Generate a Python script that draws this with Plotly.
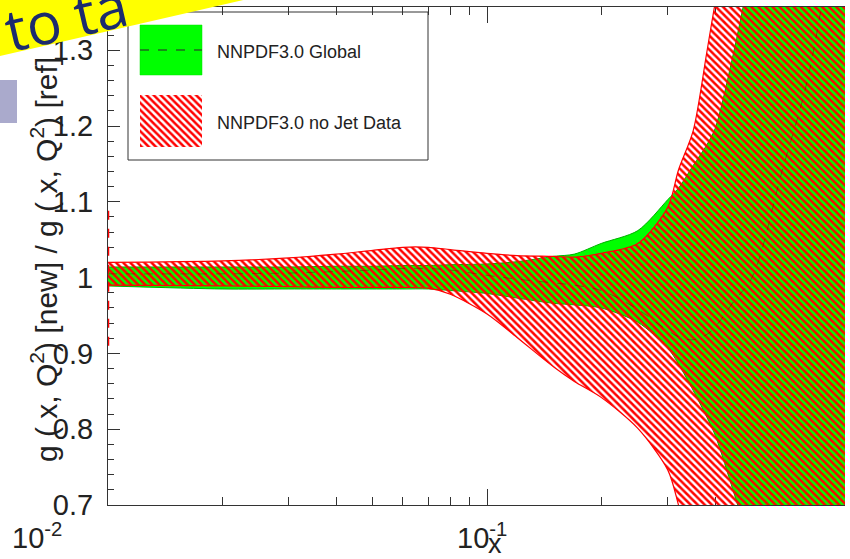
import plotly.graph_objects as go

# ---------------- data ----------------
x_vals = [0.01, 0.02, 0.03, 0.04, 0.05, 0.06, 0.07, 0.08, 0.10, 0.12, 0.15, 0.17,
          0.20, 0.25, 0.30, 0.32, 0.35, 0.38, 0.40, 0.45, 0.50, 0.60, 0.70, 0.80, 0.88]

glob_hi = [1.014, 1.014, 1.014, 1.015, 1.015, 1.016, 1.016, 1.017, 1.018, 1.021, 1.028, 1.031,
           1.045, 1.062, 1.103, 1.118, 1.148, 1.175, 1.197, 1.303, 1.42, 1.70, 2.00, 2.30, 2.60]
glob_lo = [0.989, 0.985, 0.985, 0.985, 0.985, 0.985, 0.985, 0.983, 0.979, 0.973, 0.966, 0.964,
           0.960, 0.941, 0.907, 0.886, 0.851, 0.816, 0.792, 0.713, 0.64, 0.50, 0.40, 0.30, 0.20]

nojet_hi = [1.020, 1.022, 1.026, 1.031, 1.036, 1.040, 1.040, 1.037, 1.032, 1.029, 1.028, 1.027,
            1.032, 1.045, 1.093, 1.142, 1.194, 1.297, 1.363, 1.50, 1.65, 1.90, 2.20, 2.50, 2.80]
nojet_lo = [0.990, 0.989, 0.988, 0.987, 0.987, 0.987, 0.986, 0.978, 0.952, 0.921, 0.882, 0.863,
            0.842, 0.801, 0.746, 0.700, 0.620, 0.550, 0.500, 0.40, 0.30, 0.20, 0.10, 0.05, 0.00]
nojet_c = [1.005, 1.005, 1.006, 1.008, 1.010, 1.012, 1.012, 1.010, 1.003, 0.998, 0.993, 0.990,
           0.983, 0.958, 0.930, 0.922, 0.918, 0.925, 0.935, 0.970, 1.00, 1.14, 1.26, 1.42, 1.55]

edge_x = [0.01, 0.01]
edge_y = [0.91, 1.10]

y_ticks = [0.7, 0.8, 0.9, 1.0, 1.1, 1.2, 1.3]
y_ticklabels = ["0.7", "0.8", "0.9", "1", "1.1", "1.2", "1.3"]
x_major = [0.01, 0.1]
x_major_labels = ["10<sup>-2</sup>", "10<sup>-1</sup>"]
x_minor = [0.02, 0.03, 0.04, 0.05, 0.06, 0.07, 0.08, 0.09, 0.2, 0.3, 0.4, 0.5, 0.6, 0.7, 0.8]
legend_labels = ["NNPDF3.0 Global", "NNPDF3.0 no Jet Data"]
x_title = "x"
y_title = "g ( x, Q<sup>2</sup>) [new] / g ( x, Q<sup>2</sup>) [ref]"
overlay_text = "to ta"

# ---------------- geometry helpers (pixel -> paper) ----------------
W, H = 850, 559
L, R, T, B = 108, 5, 7, 54
PW, PH = W - L - R, H - T - B


def px(xp):
    return (xp - L) / PW


def py(yp):
    return (H - B - yp) / PH


FONT = "Liberation Sans, Arial, Helvetica, sans-serif"
TXT = "#222222"
RED_PATTERN = dict(shape="\\", size=5, solidity=0.5, fillmode="replace",
                   fgcolor="#ff0000", bgcolor="rgba(0,0,0,0)", fgopacity=1)

fig = go.Figure()

# green band (Global)
fig.add_trace(go.Scatter(
    x=x_vals + x_vals[::-1], y=glob_hi + glob_lo[::-1],
    fill="toself", fillcolor="#00ff00", mode="lines",
    line=dict(color="#00b000", width=1, shape="spline", smoothing=0.8),
    hoverinfo="skip", showlegend=False))

# red hatched band (no jet data)
fig.add_trace(go.Scatter(
    x=x_vals + x_vals[::-1], y=nojet_hi + nojet_lo[::-1],
    fill="toself", fillcolor="rgba(0,0,0,0)", fillpattern=RED_PATTERN, mode="lines",
    line=dict(color="#ff0000", width=1.2, shape="spline", smoothing=0.8),
    hoverinfo="skip", showlegend=False))

# faint central value of the no-jet fit
fig.add_trace(go.Scatter(
    x=x_vals, y=nojet_c, mode="lines",
    line=dict(color="rgba(120,0,0,0.45)", width=1, dash="dash", shape="spline"),
    hoverinfo="skip", showlegend=False))

# red dashed edge at small x
fig.add_trace(go.Scatter(
    x=edge_x, y=edge_y, mode="lines",
    line=dict(color="#ff0000", width=2.5, dash="dash"),
    hoverinfo="skip", showlegend=False))

# ---------------- legend swatches on a pixel overlay axis ----------------
sw_x = [140, 202, 202, 140, 140]
fig.add_trace(go.Scatter(
    x=sw_x, y=[25, 25, 75, 75, 25], xaxis="x2", yaxis="y2",
    fill="toself", fillcolor="#00ff00", mode="lines",
    line=dict(color="#00e000", width=0.5), hoverinfo="skip", showlegend=False))
fig.add_trace(go.Scatter(
    x=[140, 202], y=[50, 50], xaxis="x2", yaxis="y2", mode="lines",
    line=dict(color="#1d6b1d", width=1.5, dash="dash"), hoverinfo="skip", showlegend=False))
fig.add_trace(go.Scatter(
    x=sw_x, y=[95, 95, 147, 147, 95], xaxis="x2", yaxis="y2",
    fill="toself", fillcolor="rgba(0,0,0,0)", fillpattern=RED_PATTERN, mode="lines",
    line=dict(color="rgba(0,0,0,0)", width=0), hoverinfo="skip", showlegend=False))

annotations = [
    dict(x=px(215), y=py(52), xref="paper", yref="paper", text=legend_labels[0],
         showarrow=False, xanchor="left", yanchor="middle", font=dict(family=FONT, size=18, color=TXT)),
    dict(x=px(215), y=py(123), xref="paper", yref="paper", text=legend_labels[1],
         showarrow=False, xanchor="left", yanchor="middle", font=dict(family=FONT, size=18, color=TXT)),
    # x tick labels
    dict(x=px(37), y=py(536), xref="paper", yref="paper", text=x_major_labels[0],
         showarrow=False, xanchor="center", yanchor="middle", font=dict(family=FONT, size=29, color=TXT)),
    dict(x=px(482), y=py(536), xref="paper", yref="paper", text=x_major_labels[1],
         showarrow=False, xanchor="center", yanchor="middle", font=dict(family=FONT, size=29, color=TXT)),
    # axis titles
    dict(x=px(495), y=py(544), xref="paper", yref="paper", text=x_title,
         showarrow=False, xanchor="center", yanchor="middle", font=dict(family=FONT, size=27, color=TXT)),
    dict(x=px(44), y=py(260), xref="paper", yref="paper", text=y_title, textangle=-90,
         showarrow=False, xanchor="center", yanchor="middle", font=dict(family=FONT, size=30, color=TXT)),
    # slide overlay text
    dict(x=px(66), y=py(16), xref="paper", yref="paper", text=overlay_text, textangle=-13,
         showarrow=False, xanchor="center", yanchor="middle",
         font=dict(family="Open Sans, sans-serif", size=58, color="#1c2b6e")),
]

shapes = [
    # legend frame
    dict(type="rect", xref="paper", yref="paper", x0=px(128), x1=px(428), y0=py(160), y1=py(12),
         line=dict(color="#333333", width=1), fillcolor="rgba(0,0,0,0)", layer="above"),
    # lavender slide block
    dict(type="rect", xref="paper", yref="paper", x0=px(-2), x1=px(17), y0=py(123), y1=py(80),
         line=dict(width=0), fillcolor="#aaaacc", layer="above"),
    # yellow slide banner
    dict(type="path", xref="paper", yref="paper",
         path=f"M {px(-5)} {py(-5)} L {px(265)} {py(-5)} L {px(-5)} {py(57.2)} Z",
         line=dict(width=0), fillcolor="#ffff00", layer="above"),
]

fig.update_layout(
    width=W, height=H, margin=dict(l=L, r=R, t=T, b=B),
    paper_bgcolor="white", plot_bgcolor="white",
    showlegend=False, annotations=annotations, shapes=shapes,
    xaxis=dict(type="log", range=[-2, -0.0555], showgrid=False, zeroline=False,
               showline=True, linecolor="#333333", linewidth=1, mirror="ticks",
               ticks="inside", tickvals=x_major, ticklen=16, tickcolor="#333333",
               showticklabels=False, layer="below traces",
               minor=dict(tickvals=x_minor, ticks="inside", ticklen=8, tickcolor="#333333")),
    yaxis=dict(range=[0.7, 1.357], showgrid=False, zeroline=False,
               showline=True, linecolor="#333333", linewidth=1, mirror=False,
               ticks="inside", tickvals=y_ticks, ticktext=y_ticklabels, ticklen=12,
               tickcolor="#333333", tickfont=dict(family=FONT, size=29, color=TXT),
               ticklabelstandoff=8, layer="below traces",
               minor=dict(dtick=0.02, tick0=0.7, ticks="inside", ticklen=6, tickcolor="#333333")),
    xaxis2=dict(overlaying="x", range=[L, W - R], visible=False),
    yaxis2=dict(overlaying="y", range=[H - B, T], visible=False),
)

fig.write_html("out.html")
